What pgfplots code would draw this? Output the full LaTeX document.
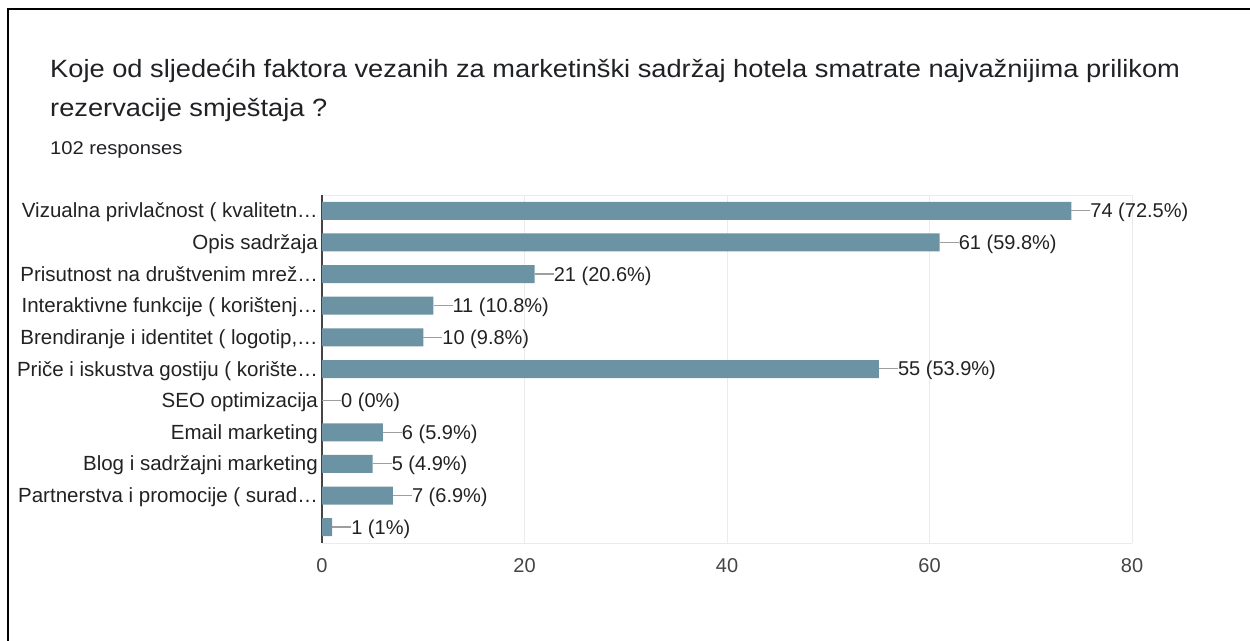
\documentclass[border=0pt]{standalone}
\usepackage{pgfplots}
\pgfplotsset{compat=1.18}
\usepackage{fontspec}
\setmainfont{Liberation Sans}
\newfontfamily\titlefont[FakeStretch=1.09]{Liberation Sans}
\definecolor{barc}{HTML}{6B93A3}
\definecolor{gridc}{HTML}{EBEBEB}
\definecolor{axisdark}{HTML}{444444}
\definecolor{titlec}{HTML}{202124}
\definecolor{labc}{HTML}{222222}
\definecolor{tickc}{HTML}{444444}
\definecolor{leadc}{HTML}{9E9E9E}
\begin{document}
\begin{tikzpicture}
\path[use as bounding box] (0,0) rectangle (1250bp,641bp);
\draw[line width=2bp] (8bp,0) -- (8bp,632bp) -- (1250bp,632bp);
\node[anchor=base west, inner sep=0pt, font=\titlefont\fontsize{25bp}{28bp}\selectfont, text=titlec] at (50bp,563bp) {Koje od sljedećih faktora vezanih za marketinški sadržaj hotela smatrate najvažnijima prilikom};
\node[anchor=base west, inner sep=0pt, font=\titlefont\fontsize{25bp}{28bp}\selectfont, text=titlec] at (50bp,524bp) {rezervacije smještaja ?};
\node[anchor=base west, inner sep=0pt, font=\titlefont\fontsize{18.5bp}{23bp}\selectfont, text=titlec] at (50bp,486bp) {102 responses};
\begin{axis}[
  at={(322bp,98bp)}, anchor=south west,
  width=810bp, height=348bp, scale only axis,
  xbar, bar width=18bp,
  xmin=0, xmax=80, ymin=-0.5, ymax=10.5, y dir=reverse,
  xtick={0,20,40,60,80}, ytick={0,...,10},
  yticklabels={Vizualna privlačnost ( kvalitetn…, Opis sadržaja, Prisutnost na društvenim mrež…, Interaktivne funkcije ( korištenj…, {Brendiranje i identitet ( logotip,…}, Priče i iskustva gostiju ( korište…, SEO optimizacija, Email marketing, Blog i sadržajni marketing, Partnerstva i promocije ( surad…, {}},
  major tick length=0pt,
  xmajorgrids, grid style={gridc, line width=1bp},
  axis y line*=left,
  y axis line style={axisdark, line width=1.5bp},
  x axis line style={gridc, line width=1bp},
  /pgf/number format/assume math mode=true,
  xticklabel style={font=\fontsize{20bp}{24bp}\selectfont, text=tickc, inner sep=0pt, anchor=north, yshift=-15bp},
  yticklabel style={font=\fontsize{20.5bp}{24bp}\selectfont, text=labc, inner sep=0pt, anchor=base east, xshift=-4bp, yshift=-7bp},
  point meta=explicit symbolic,
  nodes near coords={\textcolor{leadc}{\rule[6.5bp]{19bp}{1.2bp}}\pgfplotspointmeta},
  every node near coord/.append style={anchor=west, inner sep=0pt, xshift=0pt, yshift=-1.8bp, font=\fontsize{20bp}{24bp}\selectfont, text=labc},
  clip=false,
]
\addplot[fill=barc, draw=none] coordinates {
(74,0) [74 (72.5\%)]
(61,1) [61 (59.8\%)]
(21,2) [21 (20.6\%)]
(11,3) [11 (10.8\%)]
(10,4) [10 (9.8\%)]
(55,5) [55 (53.9\%)]
(0,6) [0 (0\%)]
(6,7) [6 (5.9\%)]
(5,8) [5 (4.9\%)]
(7,9) [7 (6.9\%)]
(1,10) [1 (1\%)]
};
\end{axis}
\end{tikzpicture}
\end{document}
